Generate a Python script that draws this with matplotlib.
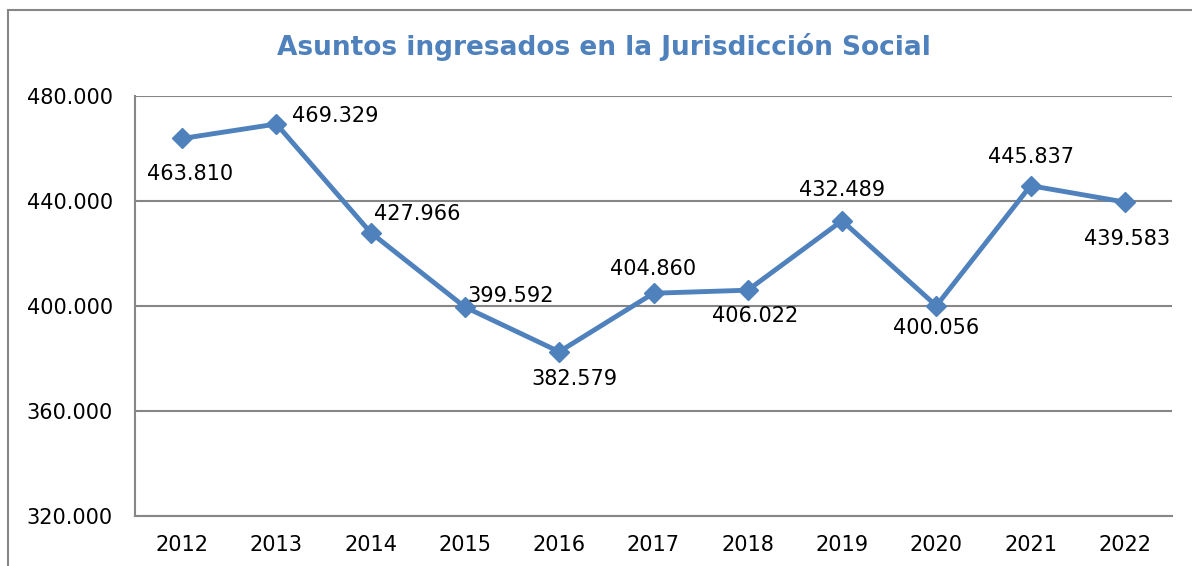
import matplotlib
matplotlib.use("Agg")
import matplotlib.pyplot as plt
from matplotlib.patches import Rectangle
from matplotlib.ticker import FuncFormatter

years = ["2012", "2013", "2014", "2015", "2016", "2017", "2018", "2019", "2020", "2021", "2022"]
asuntos = [463810, 469329, 427966, 399592, 382579, 404860, 406022, 432489, 400056, 445837, 439583]

# desplazamiento de las etiquetas (pixeles) y alineacion
offsets = [(8, -36, "center"), (16, 8, "left"), (3, 19, "left"), (2, 11, "left"),
           (15, -27, "center"), (0, 24, "center"), (7, -26, "center"), (0, 31, "center"),
           (0, -22, "center"), (0, 29, "center"), (2, -37, "center")]

def miles(v, pos=None):
    return f"{int(v):,}".replace(",", ".")

blue = "#4F81BD"
grey = "#868686"

fig = plt.figure(figsize=(11.92, 5.66), dpi=100)
fig.patches.append(Rectangle((8 / 1192, -0.1), 1.2, 1 - 10 / 566 + 0.1,
                             transform=fig.transFigure, fill=False,
                             edgecolor=grey, linewidth=1.5))

ax = fig.add_axes([135 / 1192, 50 / 566, 1037 / 1192, 420 / 566])
x = range(len(years))
ax.plot(x, asuntos, color=blue, linewidth=3.5, marker="D", markersize=10, zorder=3)

for i, v in enumerate(asuntos):
    dx, dy, ha = offsets[i]
    ax.annotate(miles(v), (i, v), xytext=(dx, dy), textcoords="offset pixels",
                ha=ha, va="center", fontsize=15, color="black")

ax.set_xlim(-0.5, len(years) - 0.5)
ax.set_ylim(320000, 480000)
ax.set_yticks([320000, 360000, 400000, 440000, 480000])
ax.yaxis.set_major_formatter(FuncFormatter(miles))
ax.set_xticks(list(x))
ax.set_xticklabels(years)
ax.tick_params(axis="both", length=0, labelsize=15)
ax.tick_params(axis="x", pad=14)
ax.tick_params(axis="y", pad=16)
ax.grid(axis="y", color=grey, linewidth=1.5)
ax.set_axisbelow(True)
for s in ["top", "right"]:
    ax.spines[s].set_visible(False)
for s in ["left", "bottom"]:
    ax.spines[s].set_color(grey)
    ax.spines[s].set_linewidth(1.5)

fig.text(604 / 1192, 1 - 47 / 566, "Asuntos ingresados en la Jurisdicción Social",
         ha="center", va="center", fontsize=19, fontweight="bold", color=blue)

fig.savefig("out.png", dpi=100)
